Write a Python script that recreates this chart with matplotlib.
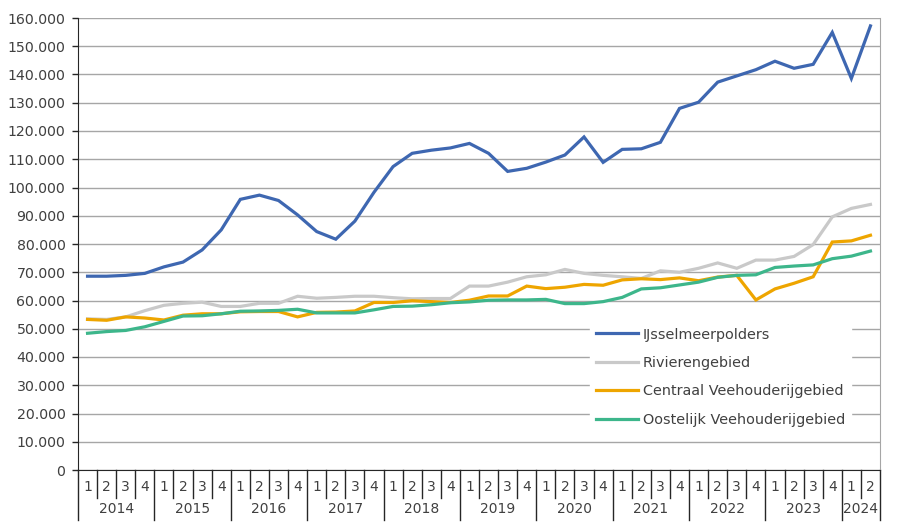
import matplotlib.pyplot as plt
from matplotlib.ticker import FuncFormatter

# quarterly data, 2014 Q1 .. 2024 Q2
years = ["2014", "2015", "2016", "2017", "2018", "2019",
         "2020", "2021", "2022", "2023", "2024"]
quarters_per_year = [4, 4, 4, 4, 4, 4, 4, 4, 4, 4, 2]

ijsselmeerpolders = [68.6, 68.6, 68.9, 69.6, 71.9, 73.6, 77.9, 85.0, 95.8, 97.3,
                     95.4, 90.3, 84.4, 81.7, 88.1, 98.3, 107.4, 112.1, 113.2, 114.0,
                     115.6, 112.1, 105.7, 106.8, 109.0, 111.5, 117.9, 108.9, 113.5, 113.7,
                     116.0, 128.0, 130.2, 137.3, 139.5, 141.7, 144.7, 142.2, 143.6, 154.9,
                     138.6, 157.2]
rivierengebied = [53.5, 53.3, 54.2, 56.4, 58.3, 59.0, 59.4, 57.9, 57.9, 59.0,
                  59.0, 61.5, 60.8, 61.1, 61.5, 61.5, 61.0, 60.6, 60.7, 60.7,
                  65.1, 65.1, 66.5, 68.4, 69.1, 71.0, 69.6, 68.9, 68.4, 67.8,
                  70.5, 70.0, 71.4, 73.3, 71.4, 74.3, 74.3, 75.6, 79.8, 89.6,
                  92.6, 94.0]
centraal = [53.3, 53.0, 54.2, 53.8, 53.1, 54.8, 55.3, 55.3, 56.0, 56.1,
            56.1, 54.2, 55.8, 55.9, 56.3, 59.3, 59.3, 59.9, 59.6, 59.3,
            60.1, 61.6, 61.6, 65.1, 64.2, 64.7, 65.7, 65.4, 67.3, 67.7,
            67.4, 68.0, 67.0, 68.3, 68.9, 60.2, 64.1, 66.1, 68.4, 80.7,
            81.1, 83.1]
oostelijk = [48.4, 49.0, 49.4, 50.7, 52.6, 54.5, 54.6, 55.3, 56.2, 56.3,
             56.5, 56.9, 55.6, 55.6, 55.6, 56.7, 57.9, 58.0, 58.5, 59.2,
             59.5, 60.1, 60.2, 60.2, 60.4, 58.9, 58.9, 59.6, 61.1, 64.1,
             64.5, 65.5, 66.5, 68.2, 68.9, 69.1, 71.7, 72.2, 72.6, 74.8,
             75.7, 77.5]

series = [
    ("IJsselmeerpolders", ijsselmeerpolders, "#3E67B1"),
    ("Rivierengebied", rivierengebied, "#C9C9C9"),
    ("Centraal Veehouderijgebied", centraal, "#EEA500"),
    ("Oostelijk Veehouderijgebied", oostelijk, "#3DB68B"),
]

W, H = 903, 532
fig = plt.figure(figsize=(W / 100, H / 100), dpi=100)
left, right, top, bottom = 78, 880, 18, 470
ax = fig.add_axes([left / W, (H - bottom) / H, (right - left) / W, (bottom - top) / H])

n = len(ijsselmeerpolders)
x = list(range(n))
for name, vals, col in series:
    ax.plot(x, [v * 1000 for v in vals], color=col, lw=2.3, label=name,
            solid_joinstyle="miter", zorder=3)

ax.set_xlim(-0.5, n - 0.5)
ax.set_ylim(0, 160000)
ax.set_yticks(range(0, 160001, 10000))
ax.yaxis.set_major_formatter(FuncFormatter(lambda v, p: f"{int(v):,}".replace(",", ".")))
ax.yaxis.grid(True, color="#A6A6A6", lw=1)
ax.set_axisbelow(True)
ax.tick_params(axis="y", direction="out", length=4, width=1, color="#262626",
               labelsize=10.2, labelcolor="#404040", pad=5)
ax.set_xticks([])

ax.spines["top"].set_visible(False)
ax.spines["right"].set_color("#A6A6A6")
ax.spines["left"].set_color("#262626")
ax.spines["bottom"].set_color("#262626")

# two-level category axis
ph = bottom - top
q_len = 28 / ph
y_len = 50 / ph
trans = ax.get_xaxis_transform()
pos = 0
ax.plot([-0.5, -0.5], [0, -y_len], transform=trans, color="#262626", lw=1, clip_on=False)
for yr, nq in zip(years, quarters_per_year):
    for q in range(nq):
        ax.text(pos + q, -17 / ph, str(q + 1), transform=trans, ha="center", va="center",
                fontsize=10, color="#404040")
        if q < nq - 1:
            ax.plot([pos + q + 0.5] * 2, [0, -q_len], transform=trans, color="#262626",
                    lw=1, clip_on=False)
    ax.text(pos + nq / 2 - 0.5, -39 / ph, yr, transform=trans, ha="center", va="center",
            fontsize=10, color="#404040")
    pos += nq
    ax.plot([pos - 0.5] * 2, [0, -y_len], transform=trans, color="#262626", lw=1, clip_on=False)

leg = ax.legend(loc="upper left", bbox_to_anchor=((590 - left) / 802, (bottom - 321) / ph),
                frameon=True, fancybox=False, edgecolor="white", framealpha=1,
                fontsize=10.4, handlelength=2.9, handletextpad=0.3, labelspacing=1.0,
                borderpad=0.45, borderaxespad=0)
for t in leg.get_texts():
    t.set_color("#404040")
leg.set_zorder(5)

fig.savefig("out.png", dpi=100)
